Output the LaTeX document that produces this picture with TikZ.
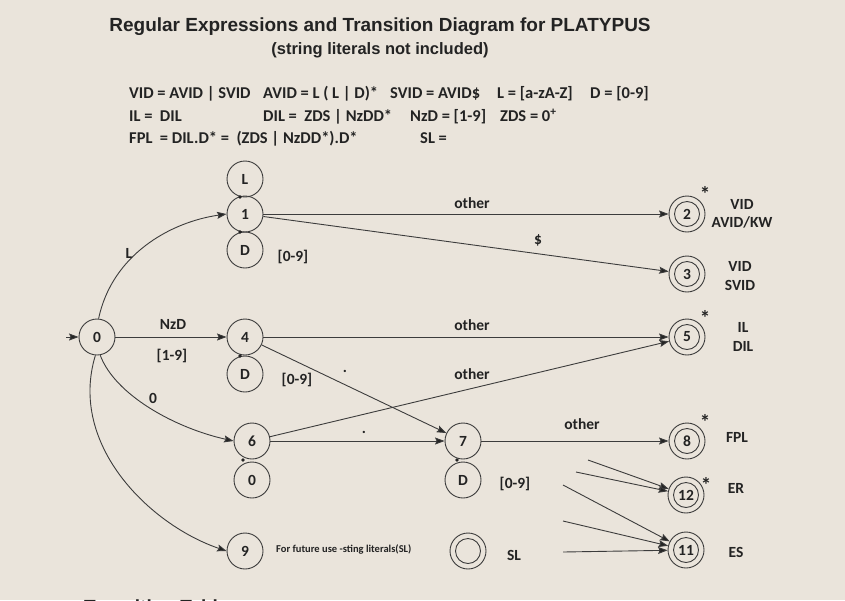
\documentclass[tikz,border=0pt]{standalone}
\usepackage{fontspec}
\setmainfont{Carlito}
\newfontfamily\titlefont{Liberation Sans}
\usetikzlibrary{arrows.meta}
\definecolor{bg}{RGB}{234,228,219}
\definecolor{ink}{RGB}{35,35,35}
\definecolor{edgec}{RGB}{60,60,60}
\tikzset{
  state/.style={circle,draw=edgec,line width=0.9pt,minimum size=36pt,inner sep=0pt,
    font=\fontsize{15.5}{15.5}\selectfont\bfseries,text=ink},
  lbl/.style={font=\fontsize{15.5}{15.5}\selectfont\bfseries,text=ink,inner sep=0pt},
  starlbl/.style={font=\fontsize{21}{21}\selectfont\bfseries,text=ink,inner sep=0pt},
  frm/.style={font=\fontsize{16.5}{16.5}\selectfont\bfseries,text=ink,inner sep=0pt,anchor=base west},
  tr/.style={draw=edgec,line width=0.9pt,-{Stealth[length=9.5pt,width=7pt,inset=1.5pt,fill=ink]}},
  innerring/.style={draw=edgec,line width=0.9pt},
  dot/.style={fill=ink},
}
\begin{document}
\begin{tikzpicture}[x=1pt,y=-1pt]
\clip (0,0) rectangle (845,600);
\fill[bg] (0,0) rectangle (845,600);
\useasboundingbox (0,0) rectangle (845,600);

% title
\node[font=\titlefont\fontsize{19}{20}\selectfont\bfseries,text=ink,inner sep=0pt] (title) at (380,27) {Regular Expressions and Transition Diagram for PLATYPUS};
\node[font=\titlefont\fontsize{16.5}{17}\selectfont\bfseries,text=ink,inner sep=0pt] (subtitle) at (380,50) {(string literals not included)};

% formulas
\node[frm] (f1a) at (129,98.5) {VID = AVID | SVID};
\node[frm] (f1b) at (263,98.5) {AVID = L ( L | D)*};
\node[frm] (f1c) at (390,98.5) {SVID = AVID\$};
\node[frm] (f1d) at (497,98.5) {L = [a-zA-Z]};
\node[frm] (f1e) at (590,98.5) {D = [0-9]};
\node[frm] (f2a) at (129,121.5) {IL =\ \ DIL};
\node[frm] (f2b) at (263,121.5) {DIL =\ \ ZDS | NzDD*};
\node[frm] (f2c) at (410,121.5) {NzD = [1-9]};
\node[frm] (f2d) at (500,121.5) {ZDS = 0\textsuperscript{+}};
\node[frm] (f3a) at (129,143.5) {FPL\ \ = DIL.D* =\ \ (ZDS | NzDD*).D*};
\node[frm] (f3b) at (420,143.5) {SL =};

% states
\node[state] (n0) at (97,337) {0};
\node[state] (n1) at (245,214) {1};
\node[state] (n1L) at (245,179) {L};
\node[state] (n1D) at (245,250) {D};
\node[state] (n4) at (245,337) {4};
\node[state] (n4D) at (245,374) {D};
\node[state] (n6) at (252,441) {6};
\node[state] (n6z) at (252,480) {0};
\node[state] (n7) at (463,441) {7};
\node[state] (n7D) at (463,480) {D};
\node[state] (n9) at (245,551) {9};

\node[state] (n2) at (687,214) {2};
\node[state] (n3) at (687,274) {3};
\node[state] (n5) at (687,337) {5};
\node[state] (n8) at (687,441) {8};
\node[state] (n12) at (686,495) {12};
\node[state] (n11) at (686,550) {11};
\node[state] (nSL) at (468,551) {};
\foreach \n in {n2,n3,n5,n8,n12,n11,nSL} \draw[innerring] (\n) circle (12.5pt);

% loop junction marks
\fill[dot] (240,197) circle (1.8pt);
\fill[dot] (240,232) circle (1.8pt);
\fill[dot] (240,356) circle (1.8pt);
\fill[dot] (243,460) circle (1.8pt);
\fill[dot] (457,460) circle (1.8pt);

% stars
\node[starlbl] (s2) at (705,194) {*};
\node[starlbl] (s5) at (705,318) {*};
\node[starlbl] (s8) at (705,422) {*};
\node[starlbl] (s12) at (706,485) {*};

% state labels
\node[lbl,align=center] (t2) at (742,214) {VID\\[3pt]AVID/KW};
\node[lbl,align=center] (t3) at (740,276) {VID\\[3pt]SVID};
\node[lbl,align=center] (t5) at (743,337) {IL\\[3pt]DIL};
\node[lbl] (t8) at (737,437) {FPL};
\node[lbl] (t12) at (736,488) {ER};
\node[lbl] (t11) at (736,552) {ES};
\node[lbl] (tSL) at (514,555) {SL};
\node[font=\fontsize{10.5}{11}\selectfont\bfseries,text=ink,inner sep=0pt,anchor=west] (t9) at (276,549) {For future use -sting literals(SL)};

% range labels
\node[lbl] (r1) at (293,257) {[0-9]};
\node[lbl] (r4) at (297,380) {[0-9]};
\node[lbl] (r7) at (515,484) {[0-9]};

% start arrow
\coordinate (start) at (66,337);
\draw[tr] (start) -- (n0);

% edges from 0
\draw[tr] (n0.85) .. controls (112,255) and (170,222) .. (n1.west);
\node[lbl] (eL) at (129,253) {L};
\draw[tr] (n0) -- (n4);
\node[lbl] (eNzD) at (173,324) {NzD};
\node[lbl] (e19) at (172,356) {[1-9]};
\draw[tr] (n0.-80) .. controls (115,395) and (175,428) .. (n6.west);
\node[lbl] (e0) at (153,398) {0};
\draw[tr] (n0.-95) .. controls (68,445) and (150,525) .. (n9.west);

% edges from 1
\draw[tr] (n1) -- (n2);
\node[lbl] (o12) at (472,203) {other};
\draw[tr] (n1) -- (n3);
\node[lbl] (d13) at (538,240) {\$};

% edges from 4
\draw[tr] (n4) -- (n5);
\node[lbl] (o45) at (472,325) {other};
\draw[tr] (n4) -- (n7);
\node[lbl] (p47) at (345,371) {.};

% edges from 6
\draw[tr] (n6) -- (n5);
\node[lbl] (o65) at (472,374) {other};
\draw[tr] (n6) -- (n7);
\node[lbl] (p67) at (364,432) {.};

% edge 7 -> 8
\draw[tr] (n7) -- (n8);
\node[lbl] (o78) at (582,424) {other};

% free lines into 12 and 11
\coordinate (a1) at (588,460);
\coordinate (a2) at (576,472);
\coordinate (b1) at (563,485);
\coordinate (b2) at (563,521);
\coordinate (b3) at (563,552);
\draw[tr] (a1) -- (n12);
\draw[tr] (a2) -- (n12);
\draw[tr] (b1) -- (n11);
\draw[tr] (b2) -- (n11);
\draw[tr] (b3) -- (n11);

% cut-off heading at the bottom
\node[font=\titlefont\fontsize{19}{20}\selectfont\bfseries,text=ink,inner sep=0pt,anchor=base west] (tt) at (84,613) {Transition Table};
\end{tikzpicture}
\end{document}
